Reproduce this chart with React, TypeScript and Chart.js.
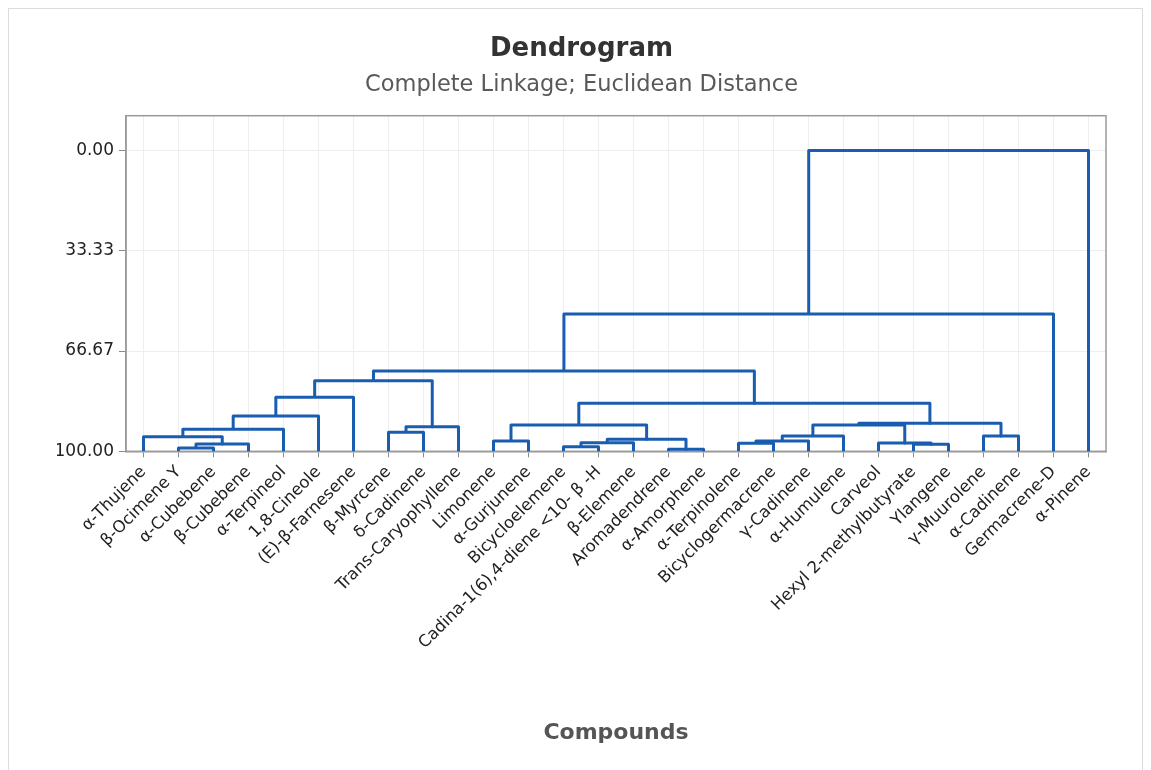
import React, { useEffect, useRef } from 'react';
import { Chart, registerables } from 'chart.js';

Chart.register(...registerables);

// Leaf order along the x axis
const compounds = [
  'α-Thujene',
  'β-Ocimene Y',
  'α-Cubebene',
  'β-Cubebene',
  'α-Terpineol',
  '1,8-Cineole',
  '(E)-β-Farnesene',
  'β-Myrcene',
  'δ-Cadinene',
  'Trans-Caryophyllene',
  'Limonene',
  'α-Gurjunene',
  'Bicycloelemene',
  'Cadina-1(6),4-diene <10- β -H',
  'β-Elemene',
  'Aromadendrene',
  'α-Amorphene',
  'α-Terpinolene',
  'Bicyclogermacrene',
  'γ-Cadinene',
  'α-Humulene',
  'Carveol',
  'Hexyl 2-methylbutyrate',
  'Ylangene',
  'γ-Muurolene',
  'α-Cadinene',
  'Germacrene-D',
  'α-Pinene',
];

// Linkage: ids 0..27 are leaves, id 28+k is the cluster formed by merge k
const mergeLeft = [1, 28, 0, 30, 31, 32, 7, 34, 33, 10, 12, 38, 15, 39, 37, 17, 43, 44, 22, 21, 24, 45, 49, 42, 36, 52, 53];
const mergeRight = [2, 3, 29, 4, 5, 6, 8, 9, 35, 11, 13, 14, 16, 40, 41, 18, 19, 20, 23, 46, 25, 47, 48, 50, 51, 26, 27];
const mergeSimilarity = [
  98.9, 97.57, 95.15, 92.69, 88.26, 82.05, 93.68, 91.82, 76.53, 96.58, 98.47, 97.14, 99.34, 96.01,
  91.26, 97.34, 96.58, 94.91, 97.67, 97.24, 94.91, 91.26, 90.69, 84.04, 73.3, 54.36, 0,
];

const yTicks = [0, 33.33, 66.67, 100];

const FONT = 'DejaVu Sans';
const LINE_COLOR = '#185db0';

function buildDatasets() {
  const pos: number[] = compounds.map((_, i) => i);
  const lvl: number[] = compounds.map(() => 100);
  const sets: any[] = [];
  for (let k = 0; k < mergeLeft.length; k++) {
    const a = mergeLeft[k];
    const b = mergeRight[k];
    const s = mergeSimilarity[k];
    sets.push({
      data: [
        { x: pos[a], y: lvl[a] },
        { x: pos[a], y: s },
        { x: pos[b], y: s },
        { x: pos[b], y: lvl[b] },
      ],
      borderColor: LINE_COLOR,
      borderWidth: 3,
      pointRadius: 0,
      fill: false,
      tension: 0,
      borderJoinStyle: 'round',
      borderCapStyle: 'butt',
    });
    pos[compounds.length + k] = (pos[a] + pos[b]) / 2;
    lvl[compounds.length + k] = s;
  }
  return sets;
}

const framePlugin = {
  id: 'plotFrame',
  beforeDatasetsDraw(chart: any) {
    const { ctx, chartArea } = chart;
    ctx.save();
    ctx.strokeStyle = '#9a9a9a';
    ctx.lineWidth = 1.5;
    ctx.strokeRect(chartArea.left, chartArea.top, chartArea.right - chartArea.left, chartArea.bottom - chartArea.top);
    ctx.restore();
  },
};

export default function App() {
  const ref = useRef<HTMLCanvasElement | null>(null);

  useEffect(() => {
    if (!ref.current) return;
    const chart = new Chart(ref.current, {
      type: 'line',
      data: { datasets: buildDatasets() },
      plugins: [framePlugin],
      options: {
        animation: false,
        responsive: false,
        layout: { padding: { left: 57, right: 45, top: 0, bottom: 0 } },
        plugins: {
          legend: { display: false },
          tooltip: { enabled: false },
          title: {
            display: true,
            text: 'Dendrogram',
            color: '#333333',
            font: { family: FONT, size: 26, weight: 'bold' },
            padding: { top: 34, bottom: 0 },
          },
          subtitle: {
            display: true,
            text: 'Complete Linkage; Euclidean Distance',
            color: '#595959',
            font: { family: FONT, size: 22.5 },
            padding: { top: 6.8, bottom: 16.7 },
          },
        },
        scales: {
          x: {
            type: 'linear',
            min: -0.5,
            max: compounds.length - 0.5,
            afterBuildTicks: (s: any) => {
              s.ticks = compounds.map((_, i) => ({ value: i }));
            },
            afterFit: (s: any) => {
              s.height = 770 - 451.3;
            },
            ticks: {
              autoSkip: false,
              minRotation: 45,
              maxRotation: 45,
              padding: 5,
              color: '#222222',
              font: { family: FONT, size: 16.5 },
              callback: (v: any) => compounds[Math.round(Number(v))],
            },
            grid: { color: '#eeeeee', tickColor: '#8a8a8a', tickLength: 6, lineWidth: 1 },
            border: { color: '#9a9a9a', width: 1.5 },
            title: {
              display: true,
              text: 'Compounds',
              color: '#555555',
              font: { family: FONT, size: 22, weight: 'bold' },
              padding: { top: 0, bottom: 24 },
            },
          },
          y: {
            type: 'linear',
            reverse: true,
            min: -11.57,
            max: 100,
            afterBuildTicks: (s: any) => {
              s.ticks = yTicks.map((v) => ({ value: v }));
            },
            afterFit: (s: any) => {
              s.width = 126 - 57;
            },
            ticks: {
              padding: 5,
              color: '#222222',
              font: { family: FONT, size: 17 },
              callback: (v: any) => Number(v).toFixed(2),
            },
            grid: { color: '#eeeeee', tickColor: '#8a8a8a', tickLength: 7, lineWidth: 1 },
            border: { color: '#9a9a9a', width: 1.5 },
          },
        },
      } as any,
    });
    return () => chart.destroy();
  }, []);

  return (
    <div style={{ position: 'fixed', left: 0, top: 0, width: 1151, height: 770, background: '#ffffff' }}>
      <div
        style={{
          position: 'absolute',
          left: 8,
          top: 8,
          right: 8,
          bottom: -2,
          borderTop: '1px solid #dcdcdc',
          borderLeft: '1px solid #dcdcdc',
          borderRight: '1px solid #dcdcdc',
        }}
      />
      <canvas ref={ref} width={1151} height={770} style={{ position: 'absolute', left: 0, top: 0, width: 1151, height: 770 }} />
    </div>
  );
}
